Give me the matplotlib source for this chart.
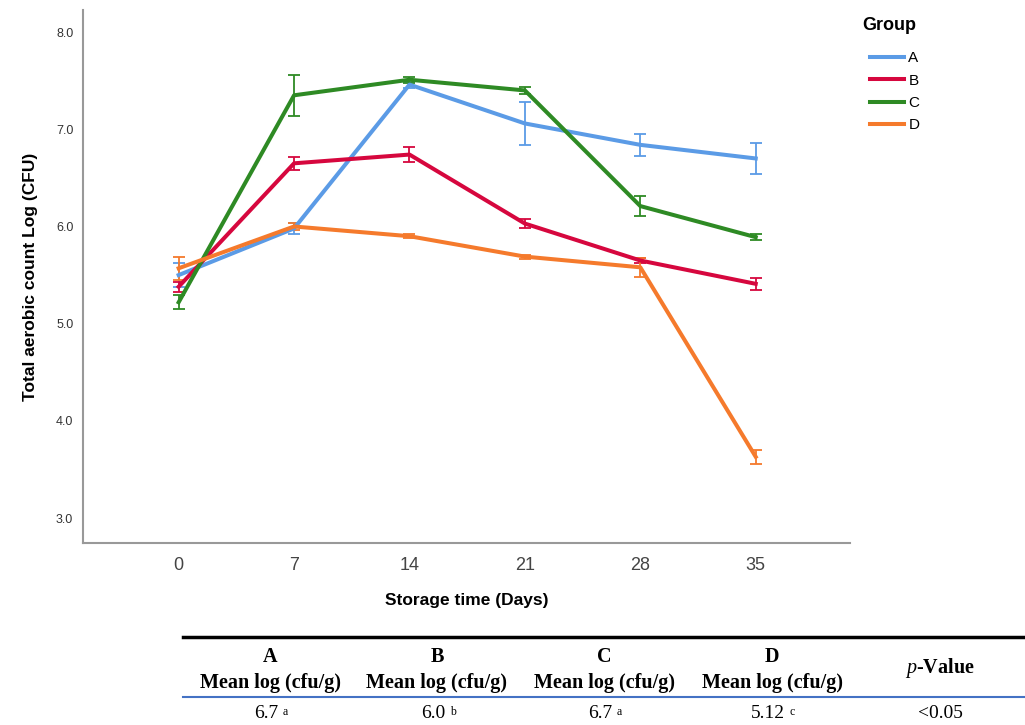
import numpy as np
import matplotlib
matplotlib.use("Agg")
import matplotlib.pyplot as plt
from matplotlib.lines import Line2D

# ---------------------------------------------
# Data
# ---------------------------------------------
days = [0, 7, 14, 21, 28, 35]
groups = ["A", "B", "C", "D"]
colors = ["#5B9BE6", "#D6073E", "#2E8A24", "#F57A2C"]

mean_a = [5.50, 5.98, 7.46, 7.06, 6.84, 6.70]
mean_b = [5.38, 6.65, 6.74, 6.03, 5.65, 5.41]
mean_c = [5.22, 7.35, 7.51, 7.40, 6.21, 5.89]
mean_d = [5.57, 6.00, 5.90, 5.69, 5.58, 3.63]

err_a = [0.12, 0.06, 0.03, 0.22, 0.11, 0.16]
err_b = [0.05, 0.07, 0.08, 0.05, 0.03, 0.065]
err_c = [0.07, 0.21, 0.03, 0.04, 0.10, 0.03]
err_d = [0.12, 0.04, 0.02, 0.02, 0.10, 0.075]

means = [mean_a, mean_b, mean_c, mean_d]
errs = [err_a, err_b, err_c, err_d]

y_ticks = [3.0, 4.0, 5.0, 6.0, 7.0, 8.0]

# summary table under the chart
table_groups = ["A", "B", "C", "D"]
table_sub = "Mean log (cfu/g)"
table_values = ["6.7", "6.0", "6.7", "5.12"]
table_letters = ["a", "b", "a", "c"]
p_value = "<0.05"

# ---------------------------------------------
# Figure
# ---------------------------------------------
plt.rcParams["font.family"] = ["Liberation Sans", "DejaVu Sans"]
plt.rcParams["mathtext.fontset"] = "custom"
plt.rcParams["mathtext.rm"] = "Liberation Serif"
plt.rcParams["mathtext.it"] = "Liberation Serif:italic"
plt.rcParams["mathtext.bf"] = "Liberation Serif:bold"

W, H = 1025, 725
def fx(px):
    return px / W
def fy(py):
    return 1 - py / H

fig = plt.figure(figsize=(10.25, 7.25), dpi=100)
ax = fig.add_axes([0.081, 0.251, 0.748, 0.735])

for m, e, c in zip(means, errs, colors):
    ax.errorbar(days, m, yerr=e, color=c, linewidth=2.9,
                elinewidth=1.3, capsize=4, capthick=1.3)

ax.set_xlim(-5.8, 40.7)
ax.set_ylim(2.743, 8.226)
ax.set_xticks(days)
ax.set_xticklabels([str(d) for d in days], fontsize=13, color="#444444")
ax.set_yticks(y_ticks)
ax.set_yticklabels([f"{v:.1f}" for v in y_ticks], fontsize=9, color="#333333")
ax.tick_params(length=0)
ax.tick_params(axis="y", pad=7)
ax.tick_params(axis="x", pad=10)

for s in ["top", "right"]:
    ax.spines[s].set_visible(False)
for s in ["left", "bottom"]:
    ax.spines[s].set_color("#999999")
    ax.spines[s].set_linewidth(1.5)

ax.set_xlabel("Storage time (Days)", fontsize=12.5, fontweight="bold", labelpad=14)
ax.set_ylabel("Total aerobic count Log (CFU)", fontsize=12.5, fontweight="bold", labelpad=13)

# legend
fig.text(fx(862), fy(25), "Group", ha="left", va="center", fontsize=13, fontweight="bold")
handles = [Line2D([0], [0], color=c, linewidth=2.9) for c in colors]
fig.legend(handles, groups, loc="upper left",
           bbox_to_anchor=(fx(864), fy(45)), frameon=False,
           fontsize=11, handlelength=2.2, labelspacing=0.55, handletextpad=0.3,
           borderaxespad=0)

# ---------------------------------------------
# Table
# ---------------------------------------------
fig.add_artist(Line2D([fx(183), fx(1025)], [fy(637), fy(637)], color="black", linewidth=2.5))
fig.add_artist(Line2D([fx(183), fx(1025)], [fy(697), fy(697)], color="#4472C4", linewidth=1.5))

col_x = [270, 437, 604, 772]
serif = "Liberation Serif"
for x, g, v, l in zip(col_x, table_groups, table_values, table_letters):
    fig.text(fx(x), fy(657), g, ha="center", va="center", fontsize=14.5,
             fontweight="bold", family=serif)
    fig.text(fx(x), fy(683), table_sub, ha="center", va="center", fontsize=14.5,
             fontweight="bold", family=serif)
    fig.text(fx(x - 4), fy(713), v, ha="center", va="center", fontsize=14, family=serif)
    fig.text(fx(x + 1 + 4 * len(v)), fy(712), l, ha="left", va="center",
             fontsize=8.5, family=serif)
fig.text(fx(940), fy(668), r"$\mathit{p}$" + "-Value", ha="center", va="center",
         fontsize=14.5, fontweight="bold", family=serif)
fig.text(fx(940), fy(713), p_value, ha="center", va="center", fontsize=14, family=serif)

fig.savefig("out.png", dpi=100)
